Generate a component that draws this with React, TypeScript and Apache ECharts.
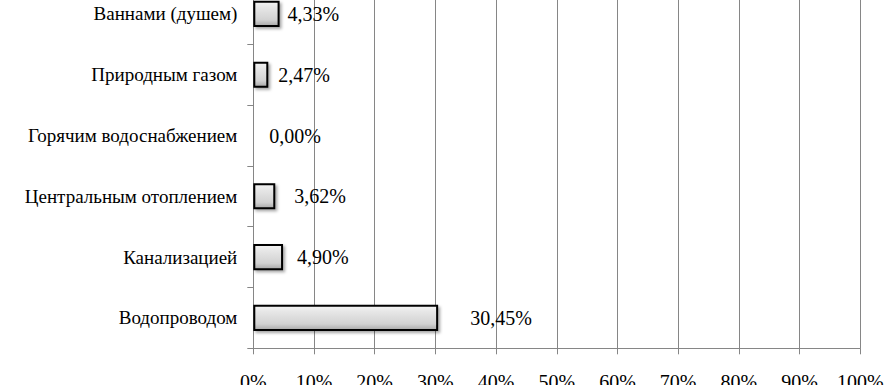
import React, { useEffect, useRef } from "react";
import * as echarts from "echarts";

const categories = [
  "Водопроводом",
  "Канализацией",
  "Центральным отоплением",
  "Горячим водоснабжением",
  "Природным газом",
  "Ваннами (душем)",
];
const values = [30.45, 4.9, 3.62, 0.0, 2.47, 4.33];
const xTicks = [0, 10, 20, 30, 40, 50, 60, 70, 80, 90, 100];
const labelGaps = [32, 14, 19, 15, 10, 8];

const FONT = "Liberation Serif";

export default function App() {
  const ref = useRef<HTMLDivElement>(null);
  useEffect(() => {
    if (!ref.current) return;
    const chart = echarts.init(ref.current, undefined, { renderer: "svg" });
    chart.setOption({
      animation: false,
      textStyle: { fontFamily: FONT },
      grid: { left: 253.3, right: 27.7, top: 0.5, bottom: 36.7, containLabel: false, outerBoundsMode: "none" },
      xAxis: {
        type: "value",
        min: xTicks[0],
        max: xTicks[xTicks.length - 1],
        interval: 10,
        axisLine: { show: true, lineStyle: { color: "#868686", width: 1 } },
        axisTick: { show: true, length: 6, lineStyle: { color: "#868686" } },
        splitLine: { show: true, lineStyle: { color: "#868686", width: 1 } },
        axisLabel: {
          formatter: "{value}%",
          fontFamily: FONT,
          fontSize: 20,
          color: "#000",
          margin: 24,
        },
      },
      yAxis: {
        type: "category",
        data: categories,
        axisLine: { show: true, lineStyle: { color: "#868686", width: 1 } },
        axisTick: { show: true, length: 6, lineStyle: { color: "#868686" } },
        axisLabel: {
          fontFamily: FONT,
          fontSize: 19,
          color: "#000",
          margin: 16,
        },
        splitLine: { show: false },
      },
      series: [
        {
          type: "bar",
          barWidth: "43%",
          data: values.map((v, i) => ({
            value: v,
            label: { distance: labelGaps[i] },
          })),
          itemStyle: {
            color: new echarts.graphic.LinearGradient(0, 0, 0, 1, [
              { offset: 0, color: "#f4f4f4" },
              { offset: 0.25, color: "#e6e6e6" },
              { offset: 0.75, color: "#d2d2d2" },
              { offset: 1, color: "#a8a8a8" },
            ]),
            borderColor: "#000",
            borderWidth: 2,
            shadowColor: "rgba(0,0,0,0.35)",
            shadowBlur: 3,
            shadowOffsetX: 2,
            shadowOffsetY: 2,
          },
          label: {
            show: true,
            position: "right",
            fontFamily: FONT,
            fontSize: 20,
            color: "#000",
            formatter: (p: any) => `${Number(p.value).toFixed(2).replace(".", ",")}%`,
          },
        },
      ],
    });
    return () => chart.dispose();
  }, []);
  return (
    <div style={{ position: "fixed", left: 0, top: 0, width: 888, height: 385, overflow: "hidden", background: "#fff" }}>
      <style>{"#root svg text { font-family: 'Liberation Serif', 'Times New Roman', serif !important; }"}</style>
      <div
        ref={ref}
        style={{ position: "absolute", left: 0, top: -17, width: 888, height: 402 }}
      />
    </div>
  );
}
